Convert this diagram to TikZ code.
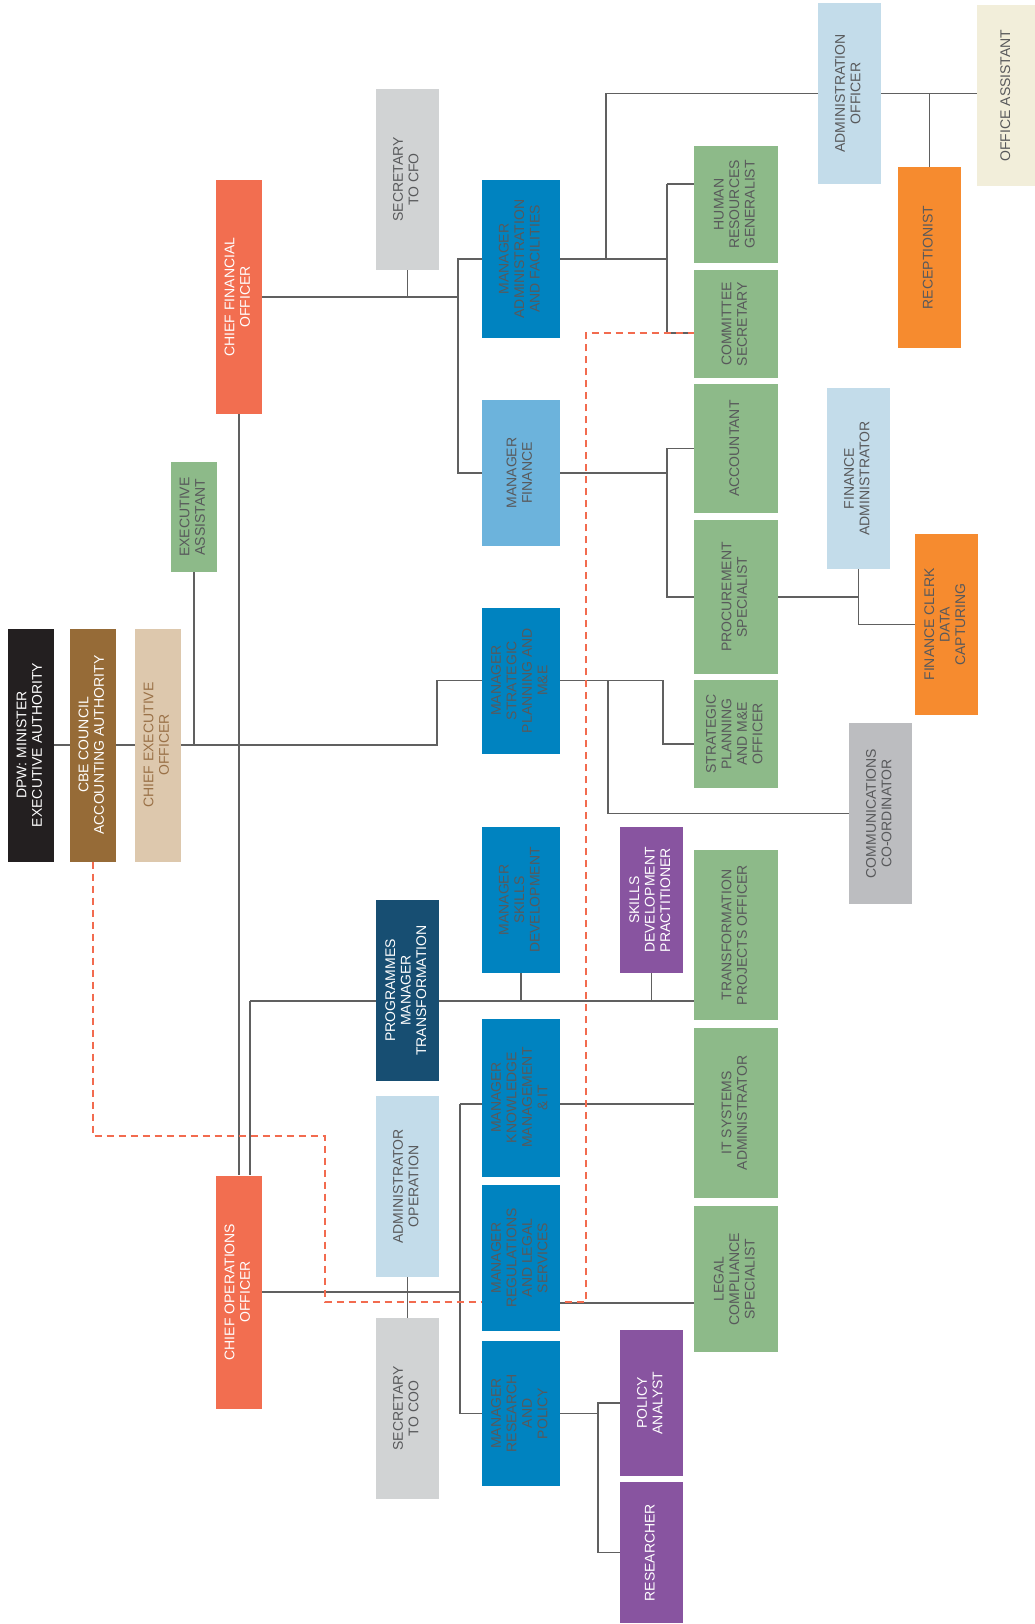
\documentclass[tikz,border=0pt]{standalone}
\usepackage{fontspec}
\setmainfont{Liberation Sans}
\usepackage{graphicx}
\usetikzlibrary{backgrounds}
\definecolor{minblack}{HTML}{231F20}
\definecolor{cbebrown}{HTML}{966B37}
\definecolor{ceobeige}{HTML}{DDC8AD}
\definecolor{ceotext}{HTML}{9A7147}
\definecolor{chiefred}{HTML}{F26E50}
\definecolor{secgrey}{HTML}{D1D3D4}
\definecolor{mgrblue}{HTML}{0083C0}
\definecolor{finblue}{HTML}{6CB3DC}
\definecolor{staffgreen}{HTML}{8DBA89}
\definecolor{paleblue}{HTML}{C3DCEA}
\definecolor{cream}{HTML}{F2EEDA}
\definecolor{recorange}{HTML}{F68B2F}
\definecolor{pracpurple}{HTML}{8854A0}
\definecolor{navy}{HTML}{174E72}
\definecolor{commgrey}{HTML}{BCBDC0}
\definecolor{textgrey}{HTML}{58595B}
\definecolor{linegrey}{HTML}{606060}
\definecolor{dashred}{HTML}{F26B4F}
\newcommand{\vtext}[1]{\rotatebox{90}{\begin{tabular}{@{}c@{}}#1\end{tabular}}}
\tikzset{
  box/.style={rectangle,inner sep=0pt,align=center,text=textgrey,font=\fontsize{14}{15.5}\selectfont},
  tall/.style={box,minimum width=46,minimum height=233},
  narrow/.style={box,minimum width=63,minimum height=181},
  mgr/.style={box,fill=mgrblue,minimum width=78,minimum height=146},
  staff/.style={box,fill=staffgreen,minimum width=84},
  prac/.style={box,fill=pracpurple,text=white,minimum width=63,minimum height=146},
  link/.style={draw=linegrey,line width=1.6pt},
  redlink/.style={draw=dashred,line width=1.3pt,dash pattern=on 7pt off 5pt}
}

\begin{document}
\begin{tikzpicture}[x=1pt,y=-1pt]
  \useasboundingbox (0,0) rectangle (1034,1624);
  % board and executive
  \node[tall,fill=minblack,text=white] (dpw) at (31,745) {\vtext{DPW: MINISTER\\EXECUTIVE AUTHORITY}};
  \node[tall,fill=cbebrown,text=white] (cbe) at (93,745) {\vtext{CBE COUNCIL\\ACCOUNTING AUTHORITY}};
  \node[tall,fill=ceobeige,text=ceotext] (ceo) at (158,745) {\vtext{CHIEF EXECUTIVE\\OFFICER}};
  \node[box,fill=staffgreen,minimum width=46,minimum height=110] (ea) at (194,517) {\vtext{EXECUTIVE\\ASSISTANT}};
  \node[tall,fill=chiefred,text=white] (cfo) at (239,297) {\vtext{CHIEF FINANCIAL\\OFFICER}};
  \node[tall,fill=chiefred,text=white] (coo) at (239,1292) {\vtext{CHIEF OPERATIONS\\OFFICER}};
  % support to the chiefs
  \node[narrow,fill=secgrey] (seccfo) at (407.5,179.5) {\vtext{SECRETARY\\TO CFO}};
  \node[narrow,fill=navy,text=white] (pmt) at (407.5,990.5) {\vtext{PROGRAMMES\\MANAGER\\TRANSFORMATION}};
  \node[narrow,fill=paleblue] (adop) at (407.5,1186.5) {\vtext{ADMINISTRATOR\\OPERATION}};
  \node[narrow,fill=secgrey] (seccoo) at (407.5,1408.5) {\vtext{SECRETARY\\TO COO}};
  % managers
  \node[mgr,minimum height=158] (maf) at (521,259) {\vtext{MANAGER\\ADMINISTRATION\\AND FACILITIES}};
  \node[mgr,fill=finblue] (mf) at (521,473) {\vtext{MANAGER\\FINANCE}};
  \node[mgr] (msp) at (521,680.5) {\vtext{MANAGER\\STRATEGIC\\PLANNING AND\\M\&E}};
  \node[mgr] (msd) at (521,900) {\vtext{MANAGER\\SKILLS\\DEVELOPMENT}};
  \node[mgr,minimum height=158] (mkm) at (521,1097.5) {\vtext{MANAGER\\KNOWLEDGE\\MANAGEMENT\\\& IT}};
  \node[mgr] (mrl) at (521,1258) {\vtext{MANAGER\\REGULATIONS\\AND LEGAL\\SERVICES}};
  \node[mgr,minimum height=145] (mrp) at (521,1413.5) {\vtext{MANAGER\\RESEARCH\\AND\\POLICY}};
  % staff
  \node[staff,minimum height=117] (hr) at (736,204.5) {\vtext{HUMAN\\RESOURCES\\GENERALIST}};
  \node[staff,minimum height=108] (cs) at (736,324) {\vtext{COMMITTEE\\SECRETARY}};
  \node[staff,minimum height=129] (acc) at (736,448.5) {\vtext{ACCOUNTANT}};
  \node[staff,minimum height=154] (proc) at (736,597) {\vtext{PROCUREMENT\\SPECIALIST}};
  \node[staff,minimum height=108] (spo) at (736,734) {\vtext{STRATEGIC\\PLANNING\\AND M\&E\\OFFICER}};
  \node[staff,minimum height=170] (tpo) at (736,935) {\vtext{TRANSFORMATION\\PROJECTS OFFICER}};
  \node[staff,minimum height=170] (itsa) at (736,1113) {\vtext{IT SYSTEMS\\ADMINISTRATOR}};
  \node[staff,minimum height=146] (lcs) at (736,1279) {\vtext{LEGAL\\COMPLIANCE\\SPECIALIST}};
  \node[prac] (sdp) at (651.5,900) {\vtext{SKILLS\\DEVELOPMENT\\PRACTITIONER}};
  \node[prac] (pa) at (651.5,1403) {\vtext{POLICY\\ANALYST}};
  \node[prac,minimum height=141] (res) at (651.5,1552.5) {\vtext{RESEARCHER}};
  \node[narrow,fill=paleblue] (ao) at (849.5,93.5) {\vtext{ADMINISTRATION\\OFFICER}};
  \node[narrow,fill=cream,minimum width=60] (oa) at (1007,95.5) {\vtext{OFFICE ASSISTANT}};
  \node[narrow,fill=recorange] (rec) at (929.5,257.5) {\vtext{RECEPTIONIST}};
  \node[narrow,fill=paleblue] (fa) at (858.5,478.5) {\vtext{FINANCE\\ADMINISTRATOR}};
  \node[narrow,fill=recorange] (fcd) at (946.5,624.5) {\vtext{FINANCE CLERK\\DATA\\CAPTURING}};
  \node[narrow,fill=commgrey] (comm) at (880.5,813.5) {\vtext{COMMUNICATIONS\\CO-ORDINATOR}};
  % junctions
  \coordinate (spjoin) at (437,680.5);
  \coordinate (cfojoin) at (458,297);
  \coordinate (hrjoin) at (667,184);
  \coordinate (csjoin) at (667,333);
  \coordinate (aojoin) at (606,93.5);
  \coordinate (finjoin) at (667,448.5);
  \coordinate (spojoin) at (663,744);
  \coordinate (commjoin) at (608,813.5);
  \coordinate (pmtjoin) at (250,1001);
  \coordinate (kmjoin) at (460,1104);
  \coordinate (legaljoin) at (560,1303);
  \coordinate (resjoin) at (598,1552.5);
  \coordinate (rd1) at (325,1136);
  \coordinate (rd2) at (586,1302);
  \begin{scope}[on background layer]
    \draw[link] (dpw.east) -- (ceo.west);
    \draw[link] (ceo.east) -| (spjoin) -- (msp.west);
    \draw[link] (ea.south) -- (ea.south |- ceo.east);
    \draw[link] (cfo.south) -- (coo.north);
    \draw[link] (cfo.east) -- (cfojoin);
    \draw[link] (seccfo.south) -- (seccfo.south |- cfo.east);
    \draw[link] (maf.west) -| (cfojoin) |- (mf.west);
    % administration and facilities
    \draw[link] (maf.east) -- (hrjoin |- maf.east);
    \draw[link] (hrjoin) -- (hrjoin -| hr.west);
    \draw[link] (hrjoin) -- (csjoin) -- (csjoin -| cs.west);
    \draw[link] (aojoin |- maf.east) -- (aojoin) -- (ao.west);
    \draw[link] (ao.east) -- (ao.east -| oa.west);
    \draw[link] (rec.north) -- (rec.north |- ao.east);
    % finance
    \draw[link] (mf.east) -- (finjoin |- mf.east);
    \draw[link] (acc.west) -| (finjoin |- proc.west) -- (proc.west);
    \draw[link] (proc.east) -| (fa.south);
    \draw[link] (fa.south) |- (fcd.west);
    % strategic planning
    \draw[link] (msp.east) -| (spojoin) -- (spojoin -| spo.west);
    \draw[link] (commjoin |- msp.east) |- (comm.west);
    % transformation
    \draw[link] (pmtjoin) -- (pmtjoin -| tpo.west);
    \draw[link] (pmtjoin) -- (pmtjoin |- coo.north);
    \draw[link] (msd.south) -- (msd.south |- pmtjoin);
    \draw[link] (sdp.south) -- (sdp.south |- pmtjoin);
    % operations
    \draw[link] (coo.east) -- (kmjoin |- coo.east);
    \draw[link] (kmjoin) -- (kmjoin -| itsa.west);
    \draw[link] (kmjoin) |- (mrp.west);
    \draw[link] (adop.south) -- (seccoo.north);
    \draw[link] (legaljoin) -- (legaljoin -| lcs.west);
    \draw[link] (mrp.east) -- (resjoin |- mrp.east);
    \draw[link] (pa.west) -| (resjoin) -- (res.west);
    % council line
    \draw[redlink] (cbe.south) |- (rd1) |- (rd2) |- (csjoin) -- (csjoin -| cs.west);
  \end{scope}
\end{tikzpicture}
\end{document}
